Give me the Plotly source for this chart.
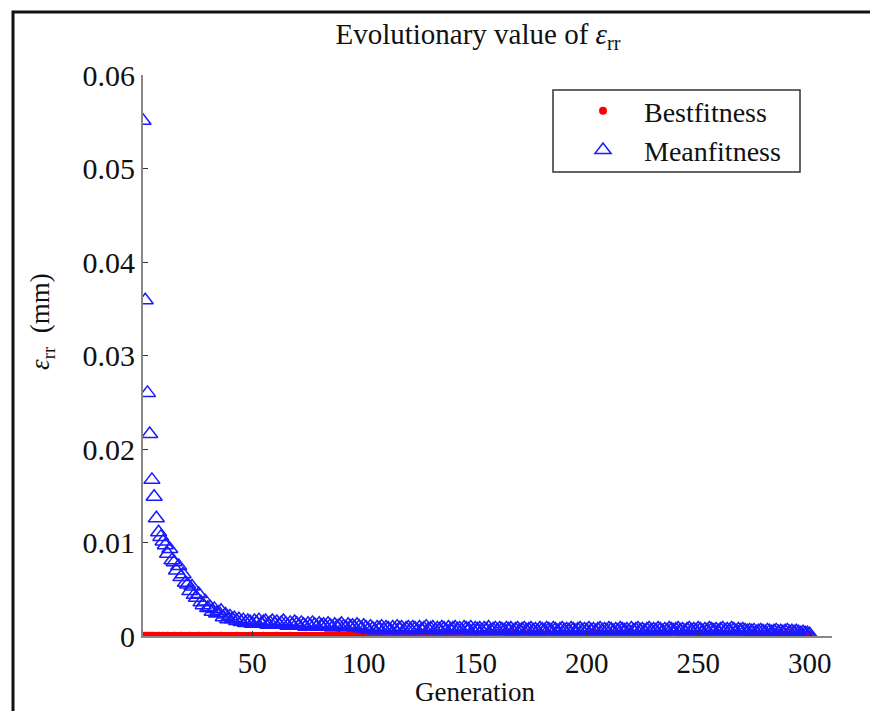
import plotly.graph_objects as go

generation = list(range(1, 301))

mean_fitness = [
    0.0551, 0.0359, 0.0260, 0.0216, 0.0167, 0.0149, 0.0126, 0.0111,
    0.0106, 0.0101, 0.0097, 0.0088, 0.0093, 0.0081, 0.0079, 0.0070, 0.0075, 0.0063, 0.0066, 0.0057,
    0.0055, 0.0048, 0.0053, 0.0044, 0.0041, 0.0045, 0.0036, 0.0033, 0.0037, 0.0030,
    0.0031, 0.0026, 0.0029, 0.0024, 0.0025, 0.0027, 0.0020, 0.0023, 0.0018, 0.0021,
    0.0018, 0.0019, 0.0016, 0.0018, 0.0015, 0.0017, 0.0014, 0.0016, 0.0015, 0.0013,
    0.0016, 0.0014, 0.0017, 0.0013, 0.0015, 0.0016, 0.0012, 0.0014, 0.0016, 0.0013,
    0.0015, 0.0012, 0.0014, 0.0016, 0.0013, 0.0011, 0.0014, 0.0012, 0.0015, 0.0013,
    0.0011, 0.0014, 0.0012, 0.0010, 0.0013, 0.0011, 0.0014, 0.0012, 0.0010, 0.0013,
    0.0011, 0.0012, 0.0010, 0.0013, 0.0011, 0.0009, 0.0012, 0.0010, 0.0011, 0.0013,
    0.0010, 0.0009, 0.0012, 0.0010, 0.0011, 0.0009, 0.0012, 0.0010, 0.0008, 0.0011,
    0.0009, 0.0007, 0.0010, 0.0008, 0.0006, 0.0009, 0.0008, 0.0010, 0.0007, 0.0009,
    0.0008, 0.0006, 0.0009, 0.0007, 0.0010, 0.0008, 0.0009, 0.0006, 0.0008, 0.0009,
    0.0007, 0.0009, 0.0008, 0.0006, 0.0009, 0.0007, 0.0008, 0.0010, 0.0007, 0.0008,
    0.0009, 0.0006, 0.0008, 0.0007, 0.0009, 0.0008, 0.0006, 0.0009, 0.0007, 0.0008,
    0.0009, 0.0007, 0.0008, 0.0006, 0.0009, 0.0008, 0.0007, 0.0009, 0.0006, 0.0008,
    0.0007, 0.0008, 0.0006, 0.0008, 0.0007, 0.0009, 0.0006, 0.0007, 0.0008, 0.0006,
    0.0008, 0.0007, 0.0006, 0.0008, 0.0007, 0.0008, 0.0005, 0.0007, 0.0008, 0.0006,
    0.0007, 0.0008, 0.0006, 0.0007, 0.0008, 0.0006, 0.0007, 0.0005, 0.0008, 0.0007,
    0.0006, 0.0008, 0.0007, 0.0006, 0.0008, 0.0007, 0.0005, 0.0007, 0.0008, 0.0006,
    0.0007, 0.0006, 0.0008, 0.0007, 0.0005, 0.0007, 0.0008, 0.0006, 0.0007, 0.0006,
    0.0008, 0.0006, 0.0007, 0.0005, 0.0007, 0.0008, 0.0006, 0.0007, 0.0006, 0.0008,
    0.0007, 0.0005, 0.0007, 0.0006, 0.0008, 0.0007, 0.0006, 0.0007, 0.0005, 0.0008,
    0.0006, 0.0007, 0.0008, 0.0006, 0.0007, 0.0005, 0.0007, 0.0008, 0.0006, 0.0007,
    0.0006, 0.0008, 0.0007, 0.0005, 0.0007, 0.0006, 0.0008, 0.0007, 0.0006, 0.0007,
    0.0008, 0.0006, 0.0007, 0.0005, 0.0007, 0.0008, 0.0006, 0.0007, 0.0006, 0.0008,
    0.0007, 0.0005, 0.0007, 0.0006, 0.0008, 0.0007, 0.0006, 0.0007, 0.0005, 0.0007,
    0.0008, 0.0006, 0.0007, 0.0006, 0.0008, 0.0007, 0.0005, 0.0007, 0.0006, 0.0007,
    0.0006, 0.0005, 0.0006, 0.0005, 0.0006, 0.0004, 0.0005, 0.0006, 0.0005, 0.0004,
    0.0006, 0.0005, 0.0004, 0.0005, 0.0006, 0.0004, 0.0005, 0.0004, 0.0005, 0.0006,
    0.0004, 0.0005, 0.0004, 0.0005, 0.0004, 0.0003, 0.0004, 0.0003, 0.0003, 0.0002,
]

best_fitness = [
    0.00004, 0.00003, 0.00002, 0.00002, 0.00003, 0.00002, 0.00001, 0.00002, 0.00001, 0.00002,
    0.00001, 0.00002, 0.00001, 0.00001, 0.00002, 0.00001, 0.00001, 0.00002, 0.00001, 0.00001,
    0.00001, 0.00002, 0.00001, 0.00001, 0.00001, 0.00002, 0.00001, 0.00001, 0.00001, 0.00001,
    0.00002, 0.00001, 0.00001, 0.00001, 0.00001, 0.00002, 0.00001, 0.00001, 0.00001, 0.00001,
    0.00001, 0.00001, 0.00002, 0.00001, 0.00001, 0.00001, 0.00001, 0.00001, 0.00002, 0.00001,
    0.00001, 0.00001, 0.00001, 0.00001, 0.00002, 0.00001, 0.00001, 0.00001, 0.00001, 0.00001,
    0.00002, 0.00001, 0.00001, 0.00001, 0.00001, 0.00001, 0.00002, 0.00001, 0.00001, 0.00001,
    0.00001, 0.00001, 0.00001, 0.00002, 0.00001, 0.00001, 0.00001, 0.00001, 0.00001, 0.00001,
    0.00002, 0.00001, 0.00001, 0.00001, 0.00001, 0.00001, 0.00001, 0.00002, 0.00001, 0.00001,
    0.00001, 0.00001, 0.00001, 0.00001, 0.00002, 0.00001, 0.00001, 0.00001, 0.00001, 0.00001,
    0.00020, 0.00005, 0.00022, 0.00004, 0.00021, 0.00005, 0.00023, 0.00004, 0.00020, 0.00005,
    0.00022, 0.00004, 0.00021, 0.00005, 0.00023, 0.00004, 0.00020, 0.00005, 0.00022, 0.00004,
    0.00021, 0.00005, 0.00023, 0.00004, 0.00020, 0.00005, 0.00022, 0.00004, 0.00021, 0.00005,
    0.00023, 0.00004, 0.00020, 0.00005, 0.00022, 0.00004, 0.00021, 0.00005, 0.00023, 0.00004,
    0.00020, 0.00005, 0.00022, 0.00004, 0.00021, 0.00005, 0.00023, 0.00004, 0.00020, 0.00005,
    0.00022, 0.00004, 0.00021, 0.00005, 0.00023, 0.00004, 0.00020, 0.00005, 0.00022, 0.00004,
    0.00021, 0.00005, 0.00023, 0.00004, 0.00020, 0.00005, 0.00022, 0.00004, 0.00021, 0.00005,
    0.00023, 0.00004, 0.00020, 0.00005, 0.00022, 0.00004, 0.00021, 0.00005, 0.00023, 0.00004,
    0.00020, 0.00005, 0.00022, 0.00004, 0.00021, 0.00005, 0.00023, 0.00004, 0.00020, 0.00005,
    0.00022, 0.00004, 0.00021, 0.00005, 0.00023, 0.00004, 0.00020, 0.00005, 0.00022, 0.00004,
    0.00021, 0.00005, 0.00023, 0.00004, 0.00020, 0.00005, 0.00022, 0.00004, 0.00021, 0.00005,
    0.00023, 0.00004, 0.00020, 0.00005, 0.00022, 0.00004, 0.00021, 0.00005, 0.00023, 0.00004,
    0.00020, 0.00005, 0.00022, 0.00004, 0.00021, 0.00005, 0.00023, 0.00004, 0.00020, 0.00005,
    0.00022, 0.00004, 0.00021, 0.00005, 0.00023, 0.00004, 0.00020, 0.00005, 0.00022, 0.00004,
    0.00021, 0.00005, 0.00023, 0.00004, 0.00020, 0.00005, 0.00022, 0.00004, 0.00021, 0.00005,
    0.00023, 0.00004, 0.00020, 0.00005, 0.00022, 0.00004, 0.00021, 0.00005, 0.00023, 0.00004,
    0.00020, 0.00005, 0.00022, 0.00004, 0.00021, 0.00005, 0.00023, 0.00004, 0.00020, 0.00005,
    0.00022, 0.00012, 0.00021, 0.00010, 0.00023, 0.00012, 0.00020, 0.00011, 0.00022, 0.00012,
    0.00021, 0.00013, 0.00020, 0.00012, 0.00022, 0.00014, 0.00021, 0.00013, 0.00020, 0.00014,
    0.00018, 0.00015, 0.00017, 0.00016, 0.00018, 0.00016, 0.00017, 0.00016, 0.00015, 0.00014,
]

x_tick_vals = [50, 100, 150, 200, 250, 300]
y_tick_vals = [0, 0.01, 0.02, 0.03, 0.04, 0.05, 0.06]
y_tick_text = ["0", "0.01", "0.02", "0.03", "0.04", "0.05", "0.06"]

SERIF = "Liberation Serif, Times New Roman, serif"
NB = "\u00a0"

W, H = 870, 711
# plot area in pixels
L, R, T, B = 143, 832, 75, 636
PW, PH = R - L, B - T


def px(xp):
    return (xp - L) / PW


def py(yp):
    return (B - yp) / PH


fig = go.Figure()
fig.add_trace(go.Scatter(
    x=generation, y=best_fitness, mode="markers", name=NB * 3 + "Bestfitness",
    marker=dict(symbol="circle", size=8, color="#ff0000", line=dict(width=0)),
))
fig.add_trace(go.Scatter(
    x=generation, y=mean_fitness, mode="markers", name=NB * 3 + "Meanfitness",
    marker=dict(symbol="triangle-up-open", size=14, color="#1a1aff",
                line=dict(width=1.5, color="#1a1aff")),
))

fig.update_layout(
    width=W, height=H,
    margin=dict(l=L, r=W - R, t=T, b=H - B),
    paper_bgcolor="white", plot_bgcolor="white",
    font=dict(family=SERIF, size=28, color="#111"),
    showlegend=True,
    legend=dict(
        x=px(583), y=py(86), xanchor="left", yanchor="top",
        borderwidth=0, bgcolor="rgba(255,255,255,0)",
        font=dict(family=SERIF, size=28, color="#111"),
        tracegroupgap=0,
    ),
    title=dict(
        text="Evolutionary value of <i>ε</i><sub>rr</sub>",
        x=px(478), xref="paper", xanchor="center",
        y=1 - 34 / H, yanchor="middle",
        font=dict(family=SERIF, size=29, color="#111"),
    ),
    xaxis=dict(
        range=[1, 310], tickvals=x_tick_vals, showgrid=False, zeroline=False,
        showline=True, linecolor="#888", linewidth=2,
        ticks="inside", ticklen=5, tickcolor="#333",
        tickfont=dict(family=SERIF, size=29, color="#111"),
    ),
    yaxis=dict(
        range=[0, 0.06], tickvals=y_tick_vals, ticktext=y_tick_text,
        showgrid=False, zeroline=False,
        showline=True, linecolor="#888", linewidth=2,
        ticks="inside", ticklen=5, tickcolor="#333",
        tickfont=dict(family=SERIF, size=30, color="#111"),
    ),
    annotations=[
        dict(text="Generation", xref="paper", yref="paper", x=px(475), y=py(692),
             xanchor="center", yanchor="middle",
             showarrow=False, font=dict(family=SERIF, size=27, color="#111")),
        dict(text="<i>ε</i><sub>rr</sub>  (mm)", xref="paper", yref="paper", x=px(42), y=py(322),
             xanchor="center", yanchor="middle",
             textangle=-90, showarrow=False, font=dict(family=SERIF, size=27, color="#111")),
    ],
    shapes=[
        dict(type="path", xref="paper", yref="paper",
             path="M {a},{b} L {c},{d} L {e},{f}".format(
                 a=px(13), b=py(H + 20), c=px(13), d=py(12), e=px(W + 40), f=py(12)),
             line=dict(color="#111", width=3), layer="below"),
        dict(type="rect", xref="paper", yref="paper",
             x0=px(553), x1=px(800), y0=py(172), y1=py(90),
             line=dict(color="#333", width=1.5), fillcolor="rgba(0,0,0,0)", layer="above"),
    ],
)

fig.write_html("out.html")
